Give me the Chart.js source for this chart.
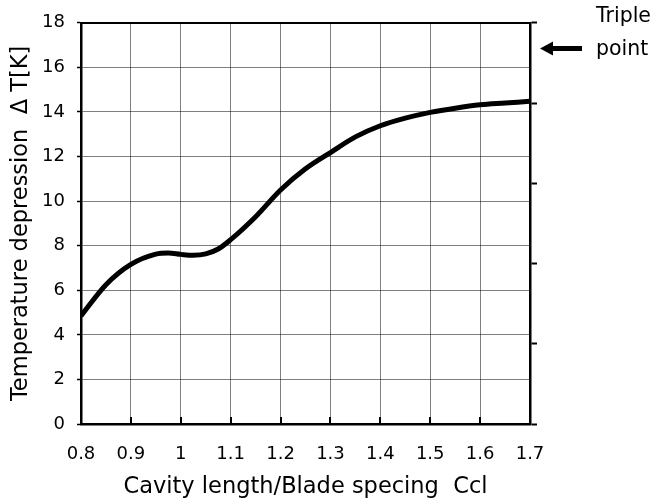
<!DOCTYPE html>
<html><head><meta charset="utf-8">
<script src="https://cdn.jsdelivr.net/npm/chart.js@4.4.0/dist/chart.umd.min.js"></script>
<style>html,body{margin:0;padding:0;background:#fff}#wrap{width:657px;height:501px}</style>
</head><body><div id="wrap"><canvas id="c" width="657" height="501"></canvas></div>
<script>
const ccl    = [0.80, 0.85, 0.90, 0.95, 0.975, 1.00, 1.025, 1.05, 1.075, 1.10, 1.15, 1.20, 1.25, 1.30, 1.35, 1.40, 1.45, 1.50, 1.55, 1.60, 1.65, 1.70];
const deltaT = [4.85, 6.25, 7.16, 7.62, 7.67, 7.61, 7.57, 7.63, 7.85, 8.27, 9.3, 10.5, 11.45, 12.18, 12.88, 13.38, 13.72, 13.98, 14.17, 14.32, 14.4, 14.48];
const xTickLabels = ['0.8','0.9','1','1.1','1.2','1.3','1.4','1.5','1.6','1.7'];
const yTickLabels = ['0','2','4','6','8','10','12','14','16','18'];
const triplePointT = 16.85;
const tripleText = ['Triple', 'point'];
const xTitle = 'Cavity length/Blade specing  Ccl';
const yTitle = 'Temperature depression  \u0394 T[K]';

const FONT = '"DejaVu Sans", "Liberation Sans", Arial, sans-serif';

const extras = {
  id: 'extras',
  afterDraw(chart) {
    const ctx = chart.ctx;
    const xs = chart.scales.x, ys = chart.scales.y, area = chart.chartArea;
    ctx.save();
    // inward tick marks on bottom axis
    ctx.strokeStyle = '#000'; ctx.lineWidth = 2;
    xs.ticks.forEach((t) => {
      const px = Math.round(xs.getPixelForValue(t.value));
      ctx.beginPath(); ctx.moveTo(px, area.bottom); ctx.lineTo(px, area.bottom - 7); ctx.stroke();
    });
    // triple point arrow
    const py = ys.getPixelForValue(triplePointT);
    const tipX = area.right + 10;
    ctx.fillStyle = '#000';
    ctx.beginPath();
    ctx.moveTo(tipX, py);
    ctx.lineTo(tipX + 13, py - 7);
    ctx.lineTo(tipX + 13, py - 2.5);
    ctx.lineTo(tipX + 42, py - 2.5);
    ctx.lineTo(tipX + 42, py + 2.5);
    ctx.lineTo(tipX + 13, py + 2.5);
    ctx.lineTo(tipX + 13, py + 7);
    ctx.closePath(); ctx.fill();
    ctx.font = '20.5px ' + FONT;
    ctx.textBaseline = 'alphabetic';
    ctx.fillText(tripleText[0], 596, 22);
    ctx.fillText(tripleText[1], 596, 55);
    ctx.restore();
  }
};

new Chart(document.getElementById('c'), {
  type: 'line',
  data: {
    datasets: [{
      data: ccl.map((x, i) => ({x, y: deltaT[i]})),
      borderColor: '#000',
      borderWidth: 5,
      pointRadius: 0,
      cubicInterpolationMode: 'monotone',
      fill: false
    }]
  },
  options: {
    responsive: false,
    animation: false,
    events: [],
    layout: {padding: {left: 0, right: 0, top: 20, bottom: 0}},
    plugins: {legend: {display: false}, tooltip: {enabled: false}},
    scales: {
      x: {
        type: 'linear', position: 'bottom', min: 0.8, max: 1.7,
        afterFit(s) { s.height = 77; },
        ticks: {stepSize: 0.1, color: '#000', font: {size: 18, family: FONT}, padding: 20, maxRotation: 0,
          callback: (v, i) => xTickLabels[i]},
        grid: {color: 'rgba(0,0,0,0.5)', lineWidth: 1, drawTicks: false},
        border: {color: '#000', width: 2.5},
        title: {display: true, text: xTitle, color: '#000', font: {size: 22.5, family: FONT}, padding: {top: 0, bottom: 0}}
      },
      x2: {
        type: 'linear', position: 'top', min: 0.8, max: 1.7,
        afterFit(s) { s.height = 0; },
        ticks: {display: false},
        grid: {drawOnChartArea: false, drawTicks: false},
        border: {color: '#000', width: 2}
      },
      y: {
        type: 'linear', position: 'left', min: 0, max: 18,
        afterFit(s) { s.width = 81; },
        ticks: {stepSize: 2, color: '#000', font: {size: 18, family: FONT}, padding: 12,
          callback: (v, i) => yTickLabels[i]},
        grid: {color: 'rgba(0,0,0,0.5)', lineWidth: 1, tickLength: 4, tickColor: '#000', tickWidth: 1.5},
        border: {color: '#000', width: 2.5},
        title: {display: true, text: yTitle, color: '#000', font: {size: 22.5, family: FONT}, padding: {top: 8, bottom: 0}}
      },
      y2: {
        type: 'linear', position: 'right', min: 0, max: 5,
        afterFit(s) { s.width = 127; },
        ticks: {display: false, stepSize: 1},
        grid: {drawOnChartArea: false, tickLength: 7, tickColor: '#000', tickWidth: 2},
        border: {color: '#000', width: 2.5}
      }
    }
  },
  plugins: [extras]
});
</script>
</body></html>
